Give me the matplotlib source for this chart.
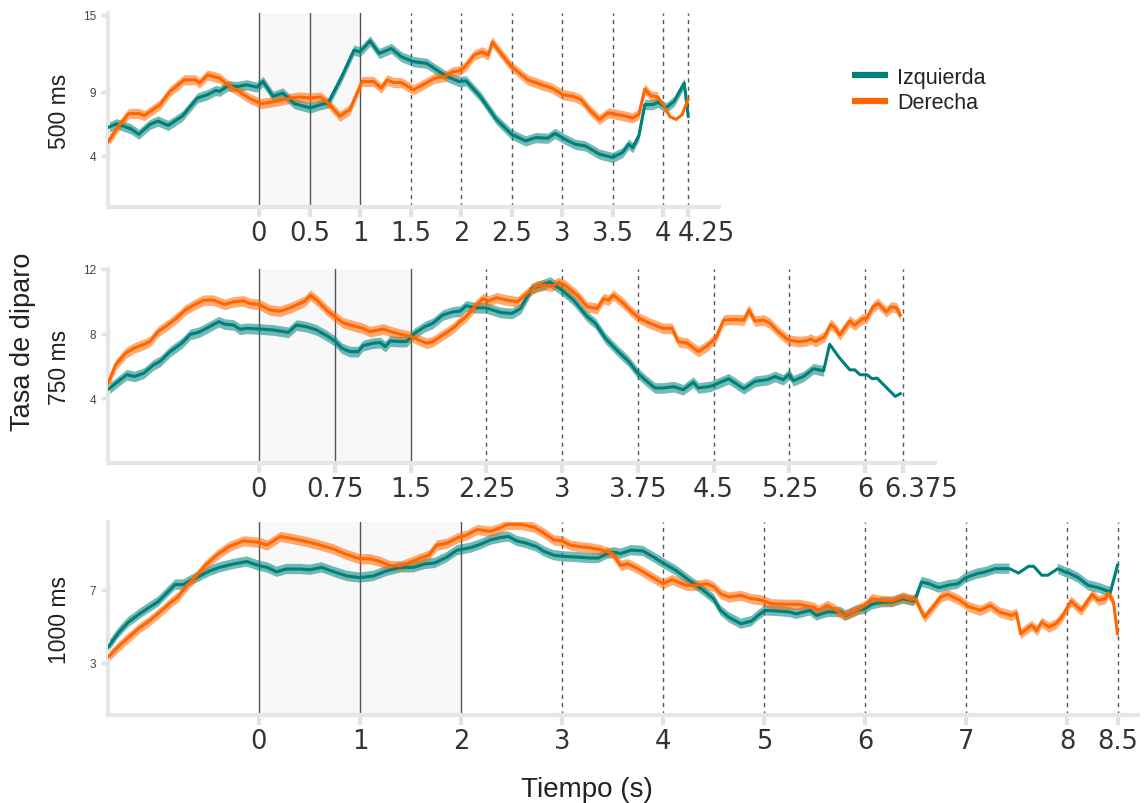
import numpy as np
import matplotlib.pyplot as plt
from matplotlib.lines import Line2D
from matplotlib.transforms import ScaledTranslation

teal = '#00807b'
orange = '#ff6600'

# --- 500 ms ---
t_izq_500 = [-1.5, -1.41, -1.27, -1.19, -1.08, -1.0, -0.9, -0.76, -0.61, -0.51, -0.43, -0.39,
             -0.31, -0.215, -0.12, -0.02, 0.04, 0.14, 0.235, 0.35, 0.51, 0.61, 0.685, 0.82,
             0.94, 1.0, 1.1, 1.19, 1.31, 1.41, 1.53, 1.66, 1.76, 1.86, 1.98, 2.05, 2.19, 2.35,
             2.5, 2.64, 2.74, 2.86, 2.93, 3.03, 3.13, 3.23, 3.37, 3.5, 3.6, 3.66, 3.7, 3.76,
             3.82, 3.9, 3.95, 4.03, 4.11, 4.21, 4.25]
izq_500 = [6.19, 6.5, 6.11, 5.68, 6.45, 6.71, 6.37, 7.09, 8.51, 8.77, 9.1, 9.03,
           9.46, 9.41, 9.54, 9.36, 9.8, 8.64, 8.9, 8.07, 7.74, 8.0, 8.12, 10.19,
           12.25, 12.12, 12.97, 11.99, 12.38, 11.73, 11.35, 11.22, 10.7, 10.19, 9.8, 9.85, 8.64, 6.84,
           5.68, 5.16, 5.42, 5.37, 5.75, 5.29, 4.9, 4.77, 4.13, 3.87, 4.26, 4.9, 4.64, 5.55,
           8.0, 8.0, 8.18, 7.74, 8.25, 9.67, 7.09]
t_der_500 = [-1.5, -1.39, -1.29, -1.19, -1.135, -0.98, -0.88, -0.74, -0.63, -0.59, -0.51, -0.39,
             -0.31, -0.2, -0.1, 0.02, 0.16, 0.27, 0.39, 0.51, 0.61, 0.685, 0.8, 0.9, 1.02,
             1.135, 1.21, 1.27, 1.33, 1.41, 1.53, 1.64, 1.74, 1.84, 1.92, 1.98, 2.04, 2.13,
             2.21, 2.27, 2.31, 2.37, 2.5, 2.66, 2.8, 2.9, 3.01, 3.11, 3.19, 3.27, 3.37, 3.46,
             3.6, 3.7, 3.76, 3.82, 3.88, 3.95, 4.01, 4.07, 4.13, 4.19, 4.25]
der_500 = [5.03, 6.32, 7.3, 7.3, 7.14, 7.99, 9.03, 9.93, 9.93, 9.67, 10.31, 10.06,
           9.54, 9.03, 8.51, 8.07, 8.25, 8.43, 8.59, 8.51, 8.59, 8.12, 7.09, 7.61, 9.8,
           9.8, 9.28, 9.93, 9.72, 9.72, 9.15, 9.62, 10.06, 10.19, 10.57, 10.62, 10.96, 11.86,
           12.12, 11.86, 12.89, 12.25, 10.96, 9.93, 9.54, 9.28, 8.77, 8.64, 8.38, 7.61, 6.84, 7.35,
           7.14, 6.96, 7.22, 9.21, 8.69, 8.59, 7.87, 7.04, 6.84, 7.22, 8.43]

# --- 750 ms ---
t_izq_750 = [-1.5, -1.31, -1.23, -1.14, -1.045, -0.98, -0.88, -0.765, -0.68, -0.6, -0.52, -0.4,
             -0.34, -0.25, -0.19, -0.12, 0.0, 0.14, 0.21, 0.29, 0.37, 0.47, 0.57, 0.67, 0.75,
             0.82, 0.9, 0.98, 1.03, 1.13, 1.2, 1.25, 1.3, 1.38, 1.46, 1.54, 1.64, 1.72, 1.82,
             1.92, 1.99, 2.05, 2.15, 2.245, 2.39, 2.505, 2.59, 2.7, 2.8, 2.88, 3.0, 3.115, 3.25,
             3.33, 3.43, 3.54, 3.66, 3.75, 3.84, 3.92, 4.0, 4.105, 4.2, 4.3, 4.35, 4.47, 4.57,
             4.65, 4.73, 4.8, 4.91, 5.03, 5.11, 5.19, 5.25, 5.29, 5.39, 5.49, 5.59, 5.65, 5.75,
             5.85, 5.9, 5.95, 6.02, 6.07, 6.12, 6.21, 6.3, 6.35]
izq_750 = [4.53, 5.46, 5.35, 5.56, 6.07, 6.28, 6.89, 7.41, 7.96, 8.08, 8.33, 8.74,
           8.59, 8.53, 8.27, 8.33, 8.29, 8.23, 8.16, 8.08, 8.53, 8.43, 8.23, 7.88, 7.55,
           7.1, 6.89, 6.89, 7.26, 7.41, 7.45, 7.2, 7.55, 7.51, 7.51, 8.02, 8.43, 8.64, 9.15,
           9.35, 9.39, 9.72, 9.6, 9.6, 9.31, 9.25, 9.56, 10.79, 11.0, 11.2, 10.69, 10.07, 9.05,
           8.64, 7.71, 7.0, 6.28, 5.56, 5.05, 4.64, 4.64, 4.72, 4.53, 5.0, 4.64, 4.74, 5.0,
           5.21, 4.88, 4.59, 5.05, 5.15, 5.35, 5.15, 5.5, 5.09, 5.35, 5.83, 5.7, 7.34, 6.48,
           5.76, 5.76, 5.46, 5.46, 5.21, 5.25, 4.68, 4.12, 4.29]
t_der_750 = [-1.5, -1.42, -1.32, -1.24, -1.14, -1.08, -1.0, -0.88, -0.8, -0.73, -0.65, -0.55,
             -0.45, -0.34, -0.25, -0.155, -0.09, 0.0, 0.11, 0.21, 0.31, 0.405, 0.455, 0.51, 0.59,
             0.67, 0.75, 0.83, 0.93, 1.03, 1.1, 1.23, 1.33, 1.43, 1.51, 1.58, 1.66, 1.72, 1.82,
             1.92, 1.99, 2.05, 2.15, 2.22, 2.27, 2.35, 2.46, 2.56, 2.67, 2.75, 2.835, 2.9, 2.97,
             3.03, 3.15, 3.25, 3.35, 3.41, 3.46, 3.51, 3.61, 3.69, 3.77, 3.87, 4.0, 4.09, 4.15,
             4.24, 4.35, 4.43, 4.52, 4.6, 4.7, 4.8, 4.85, 4.91, 5.0, 5.06, 5.14, 5.24, 5.34,
             5.42, 5.46, 5.51, 5.6, 5.66, 5.7, 5.75, 5.85, 5.9, 5.97, 6.02, 6.08, 6.13, 6.21,
             6.26, 6.31, 6.35]
der_750 = [4.84, 6.07, 6.79, 7.1, 7.34, 7.51, 8.12, 8.64, 9.05, 9.46, 9.76, 10.07,
           10.07, 9.81, 9.97, 10.03, 9.87, 9.81, 9.46, 9.39, 9.6, 9.87, 10.01, 10.38, 9.97,
           9.46, 9.05, 8.68, 8.49, 8.33, 8.12, 8.29, 8.08, 7.92, 7.82, 7.61, 7.41, 7.51, 7.92,
           8.33, 8.74, 9.05, 9.76, 10.17, 10.01, 10.22, 10.07, 9.97, 10.58, 10.95, 11.0, 10.95, 11.16,
           11.0, 10.38, 9.66, 9.56, 10.17, 10.07, 10.38, 9.87, 9.35, 8.94, 8.64, 8.33, 8.33, 7.51,
           7.41, 6.89, 7.2, 7.71, 8.84, 8.88, 8.84, 9.46, 8.78, 8.84, 8.64, 8.12, 7.61, 7.51,
           7.55, 7.67, 7.51, 7.82, 8.57, 8.37, 7.92, 8.78, 8.53, 8.9, 8.98, 9.66, 9.87, 9.35,
           9.66, 9.6, 9.15]

# --- 1000 ms ---
t_izq_1000 = [-1.5, -1.39, -1.295, -1.18, -1.08, -1.0, -0.915, -0.83, -0.75, -0.67, -0.585, -0.485,
              -0.39, -0.25, -0.12, 0.0, 0.08, 0.175, 0.27, 0.41, 0.505, 0.62, 0.74, 0.87, 1.0,
              1.13, 1.265, 1.4, 1.53, 1.645, 1.74, 1.86, 1.96, 2.09, 2.19, 2.29, 2.39, 2.47,
              2.55, 2.65, 2.75, 2.82, 2.92, 3.02, 3.15, 3.28, 3.36, 3.45, 3.52, 3.58, 3.68, 3.8,
              3.905, 4.0, 4.126, 4.26, 4.4, 4.5, 4.57, 4.65, 4.77, 4.876, 4.94, 5.01, 5.15, 5.25,
              5.32, 5.455, 5.52, 5.625, 5.76, 5.81, 5.915, 6.0, 6.07, 6.17, 6.27, 6.375, 6.48,
              6.5, 6.56, 6.63, 6.73, 6.82, 6.92, 7.0, 7.11, 7.19, 7.29, 7.43, 7.52, 7.62, 7.67,
              7.75, 7.81, 7.91, 7.98, 8.03, 8.11, 8.21, 8.31, 8.43, 8.5]
izq_1000 = [3.81, 4.65, 5.22, 5.69, 6.06, 6.34, 6.81, 7.28, 7.28, 7.53, 7.75, 8.03,
            8.22, 8.41, 8.54, 8.31, 8.22, 7.98, 8.13, 8.13, 8.09, 8.22, 7.98, 7.75, 7.66,
            7.75, 8.03, 8.22, 8.22, 8.41, 8.46, 8.78, 9.16, 9.29, 9.48, 9.72, 9.85, 9.91,
            9.67, 9.54, 9.35, 9.1, 8.88, 8.82, 8.78, 8.73, 8.73, 8.97, 9.05, 8.97, 9.16, 9.12,
            8.79, 8.46, 8.06, 7.51, 6.96, 6.51, 5.87, 5.5, 5.14, 5.28, 5.59, 5.87, 5.83, 5.78,
            5.68, 5.87, 5.59, 5.78, 5.78, 5.59, 5.87, 5.96, 6.2, 6.32, 6.32, 6.51, 6.38,
            6.51, 7.42, 7.33, 7.11, 7.24, 7.33, 7.66, 7.88, 7.97, 8.15, 8.15, 7.91, 8.28, 8.28,
            7.79, 7.79, 8.15, 7.97, 7.88, 7.66, 7.24, 7.11, 6.87, 8.33]
t_der_1000 = [-1.5, -1.39, -1.295, -1.18, -1.08, -0.98, -0.865, -0.8, -0.72, -0.62, -0.535, -0.42,
              -0.3, -0.155, 0.0, 0.08, 0.21, 0.34, 0.47, 0.605, 0.74, 0.87, 1.0, 1.1, 1.2, 1.3,
              1.4, 1.5, 1.6, 1.68, 1.76, 1.86, 1.96, 2.06, 2.16, 2.29, 2.39, 2.455, 2.59, 2.72,
              2.82, 2.92, 3.0, 3.08, 3.18, 3.28, 3.38, 3.5, 3.58, 3.65, 3.75, 3.89, 4.0, 4.09,
              4.23, 4.33, 4.43, 4.5, 4.57, 4.65, 4.77, 4.876, 4.96, 5.08, 5.22, 5.35, 5.49, 5.54,
              5.625, 5.69, 5.795, 5.9, 6.0, 6.07, 6.15, 6.27, 6.375, 6.46, 6.5, 6.545, 6.59, 6.66,
              6.75, 6.82, 6.94, 7.02, 7.14, 7.24, 7.33, 7.45, 7.5, 7.54, 7.6, 7.65, 7.7, 7.75,
              7.82, 7.89, 7.95, 8.04, 8.14, 8.25, 8.31, 8.38, 8.41, 8.46, 8.5]
der_1000 = [3.28, 3.9, 4.37, 4.93, 5.31, 5.78, 6.34, 6.62, 7.19, 7.75, 8.31, 8.88,
            9.35, 9.67, 9.59, 9.44, 9.91, 9.78, 9.63, 9.44, 9.22, 8.92, 8.69, 8.69, 8.54, 8.31,
            8.31, 8.5, 8.73, 8.88, 9.44, 9.54, 9.82, 10.0, 10.29, 10.19, 10.38, 10.57, 10.57, 10.42,
            10.1, 9.72, 9.67, 9.44, 9.35, 9.29, 9.19, 8.97, 8.33, 8.42, 8.15, 7.69, 7.33, 7.55,
            7.24, 7.24, 7.33, 7.18, 6.78, 6.6, 6.69, 6.51, 6.45, 6.23, 6.2, 6.2, 6.05, 5.87,
            6.14, 5.96, 5.59, 5.83, 6.14, 6.51, 6.42, 6.38, 6.6, 6.45, 6.51, 5.96, 5.5, 5.96,
            6.6, 6.74, 6.42, 6.09, 5.87, 6.14, 5.78, 5.59, 5.72, 4.59, 4.86, 5.05, 4.77, 5.23,
            4.95, 5.14, 5.5, 6.38, 5.87, 6.74, 6.42, 6.51, 6.82, 6.33, 4.59]

panels = [
    dict(izq=(t_izq_500, izq_500), der=(t_der_500, der_500), label='500 ms',
         solid=[0, 0.5, 1], dashed=[1.5, 2, 2.5, 3, 3.5, 4, 4.25], yticks=[4, 9, 15],
         ylim=(0, 15.15), xmax=4.55, top=14, bottom=208, sem=0.4,
         gap_izq=None, gap_der=(4.0, 9), shift_last=True),
    dict(izq=(t_izq_750, izq_750), der=(t_der_750, der_750), label='750 ms',
         solid=[0, 0.75, 1.5], dashed=[2.25, 3, 3.75, 4.5, 5.25, 6, 6.375], yticks=[4, 8, 12],
         ylim=(0, 12.0), xmax=6.69, top=270, bottom=464, sem=0.33,
         gap_izq=(5.64, 9), gap_der=None, shift_last=True),
    dict(izq=(t_izq_1000, izq_1000), der=(t_der_1000, der_1000), label='1000 ms',
         solid=[0, 1, 2], dashed=[3, 4, 5, 6, 7, 8, 8.5], yticks=[3, 7],
         ylim=(0.15, 10.7), xmax=8.7, top=523, bottom=716, sem=0.28,
         gap_izq=(7.5, 7.9), gap_der=None, shift_last=False),
]

W, H = 1148, 804
fig = plt.figure(figsize=(W / 100, H / 100), dpi=100)

px_per_s = 101
x_left = 107.5
for p in panels:
    right = x_left + (p['xmax'] + 1.5) * px_per_s
    ax = fig.add_axes([x_left / W, 1 - p['bottom'] / H, (right - x_left) / W,
                       (p['bottom'] - p['top']) / H])
    ax.set_xlim(-1.5, p['xmax'])
    ax.set_ylim(*p['ylim'])

    ax.axvspan(0, p['solid'][-1], color='#f8f8f8', zorder=0)
    for v in p['solid']:
        ax.axvline(v, color='#555555', lw=1.0, zorder=1)
    for v in p['dashed']:
        ax.axvline(v, color='#555555', lw=1.0, ls=(0, (3, 3)), zorder=1)

    for key, col in (('izq', teal), ('der', orange)):
        t = np.array(p[key][0])
        y = np.array(p[key][1])
        gap = p['gap_' + key]
        mask = np.ones(len(t), bool)
        if gap is not None:
            mask = ~((t > gap[0]) & (t < gap[1]))
        ax.fill_between(t, y - p['sem'], y + p['sem'], where=mask, color=col,
                        alpha=0.55, lw=0, zorder=2)
        ax.plot(t, y, color=col, lw=2.2, zorder=3)

    ticks = p['solid'] + p['dashed']
    ax.set_xticks(ticks)
    ax.set_xticklabels(['{:g}'.format(v) for v in ticks])
    ax.set_yticks(p['yticks'])
    ax.tick_params(axis='x', length=7.5, width=3, color='#e3e3e3', pad=2,
                   labelsize=18.5, labelcolor='#333333')
    ax.tick_params(axis='y', length=5, width=2.5, color='#e3e3e3', pad=3,
                   labelsize=8.5, labelcolor='#444444')
    for lbl in ax.get_yticklabels():
        lbl.set_family('Liberation Sans')
    if p['shift_last']:
        lbl = ax.get_xticklabels()[-1]
        lbl.set_transform(lbl.get_transform() + ScaledTranslation(0.18, 0, fig.dpi_scale_trans))

    for s in ('top', 'right'):
        ax.spines[s].set_visible(False)
    for s in ('left', 'bottom'):
        ax.spines[s].set_color('#e6e6e6')
        ax.spines[s].set_linewidth(3)

    ax.set_ylabel(p['label'], family='Liberation Sans', fontsize=16.5, color='#222222')
    ax.yaxis.set_label_coords(-36 / (right - x_left), 0.5)

fig.text(36 / W, 1 - 342 / H, 'Tasa de diparo', rotation=90, ha='right', va='center',
         family='Liberation Sans', fontsize=19.5, color='#222222')
fig.text(587 / W, 1 - 797 / H, 'Tiempo (s)', ha='center', va='baseline',
         family='Liberation Sans', fontsize=20, color='#222222')

handles = [Line2D([], [], color=teal, lw=4.5, solid_capstyle='butt'),
           Line2D([], [], color=orange, lw=4.5, solid_capstyle='butt')]
fig.legend(handles, ['Izquierda', 'Derecha'], loc='center left',
           bbox_to_anchor=(841 / W, 1 - 91 / H), frameon=False, borderpad=0,
           handlelength=1.7, handletextpad=0.4, labelspacing=0.2,
           prop={'family': 'Liberation Sans', 'size': 15.5}, labelcolor='#222222')

fig.savefig('out.png', dpi=100)
